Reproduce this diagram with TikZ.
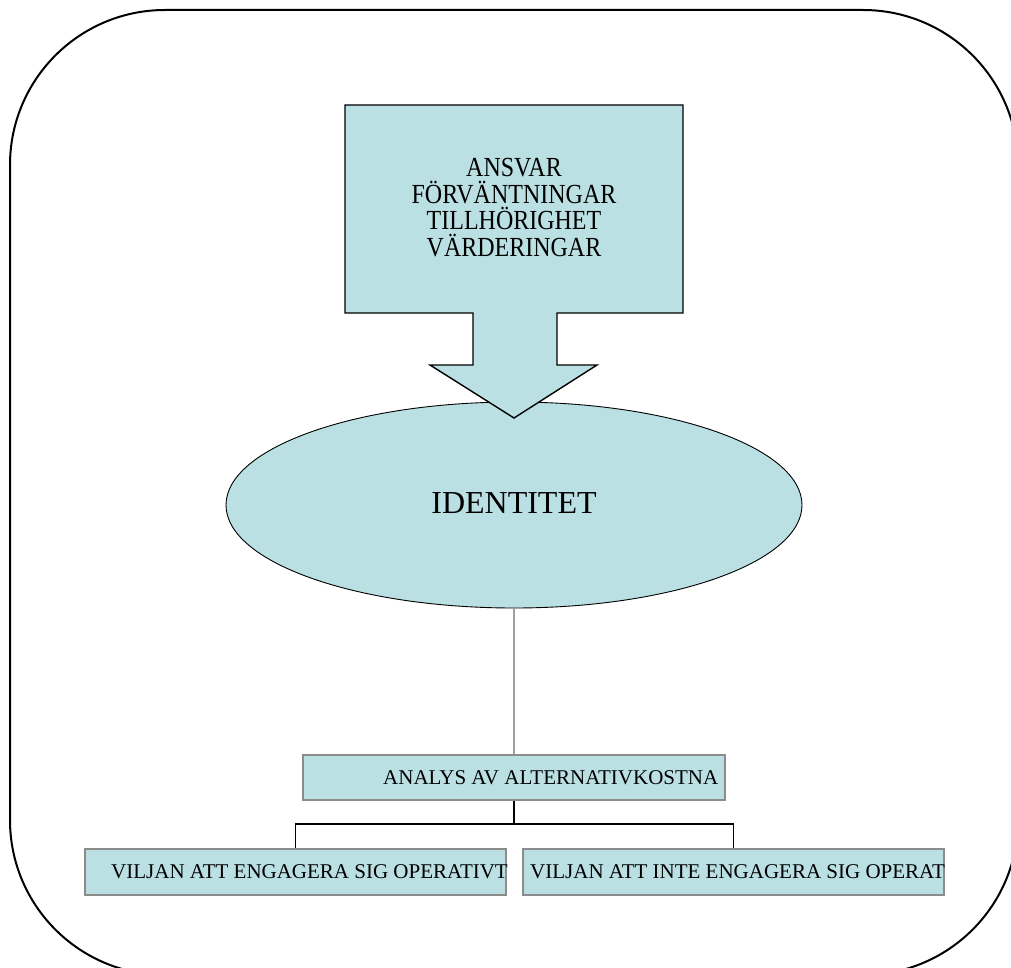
\documentclass[tikz,border=0pt]{standalone}
\usepackage{fontspec}
\setmainfont{Liberation Serif}
\usetikzlibrary{shapes.geometric}
\definecolor{fillblue}{HTML}{BBE0E3}
\definecolor{boxgray}{HTML}{8C8C8C}
\definecolor{linegray}{HTML}{A0A0A0}
\tikzset{
  frameline/.style={draw=black, line width=2pt, rounded corners=155pt},
  calloutshape/.style={draw=black, line width=1.4pt, fill=fillblue, line join=miter},
  idellipse/.style={ellipse, draw=black, line width=0.9pt, fill=fillblue, minimum width=576pt, minimum height=206pt, inner sep=0pt},
  barbox/.style={rectangle, draw=boxgray, line width=1.6pt, fill=fillblue, inner sep=0pt},
  treeline/.style={draw=black, line width=1.5pt},
  greyline/.style={draw=linegray, line width=1.5pt},
  smalltext/.style={inner sep=0pt, font=\fontsize{21}{25}\selectfont},
  toptext/.style={inner sep=0pt, anchor=base, font=\fontsize{24}{27}\selectfont},
}
\begin{document}
\begin{tikzpicture}[x=1pt, y=-1pt]
\useasboundingbox (0,0) rectangle (1011,968);
% outer frame
\draw[frameline] (10,10) rectangle (1018,975);

% ellipse
\node[idellipse] (id) at (514,505) {};
\node[inner sep=0pt, anchor=base, font=\fontsize{32}{36}\selectfont] (idtext) at (514,513) {IDENTITET};

% callout arrow
\draw[calloutshape] (345,105) -- (683,105) -- (683,313) -- (557,313) -- (557,365) -- (597,365)
  -- (514,418) -- (430,365) -- (473,365) -- (473,313) -- (345,313) -- cycle;
\coordinate (tip) at (514,418);
\node[toptext] (t1) at (514,177) {\scalebox{1}[1.15]{ANSVAR}};
\node[toptext] (t2) at (514,204) {\scalebox{1}[1.15]{FÖRVÄNTNINGAR}};
\node[toptext] (t3) at (514,230) {\scalebox{1}[1.15]{TILLHÖRIGHET}};
\node[toptext] (t4) at (514,257) {\scalebox{1}[1.15]{VÄRDERINGAR}};

% boxes
\node[barbox, minimum width=422pt, minimum height=45pt] (ana) at (514,777.5) {};
\node[barbox, minimum width=421pt, minimum height=46pt] (v1) at (295.5,872) {};
\node[barbox, minimum width=421pt, minimum height=46pt] (v2) at (733.5,872) {};

% connectors
\draw[greyline] (id.south) -- (ana.north);
\coordinate (split) at (514,824);
\draw[treeline] (ana.south) -- (split);
\draw[treeline] (split) -| (v1.north);
\draw[treeline] (split) -| (v2.north);

% texts
\node[smalltext, anchor=base west] (anatext) at (383,784) {ANALYS AV ALTERNATIVKOSTNA};
\node[smalltext, anchor=base west] (v1text) at (111,878) {VILJAN ATT ENGAGERA SIG OPERATIVT};
\node[smalltext, anchor=base west] (v2text) at (530,878) {VILJAN ATT INTE ENGAGERA SIG OPERAT};
\end{tikzpicture}
\end{document}
